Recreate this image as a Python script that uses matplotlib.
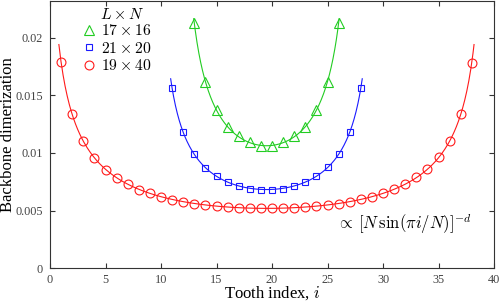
import numpy as np
import matplotlib
matplotlib.use("Agg")
import matplotlib.pyplot as plt
from matplotlib.ticker import FuncFormatter

plt.rcParams["font.family"] = ["Liberation Serif", "DejaVu Serif"]
plt.rcParams["mathtext.fontset"] = "cm"

# ------------------- Data -------------------

# L x N = 17 x 16, teeth 13..26
i_green = np.arange(13, 27)
y_green = [0.02128, 0.01612, 0.01372, 0.01227, 0.01143, 0.01092, 0.01060,
           0.01060, 0.01092, 0.01145, 0.01227, 0.01372, 0.01614, 0.02128]

# L x N = 21 x 20, teeth 11..28
i_blue = np.arange(11, 29)
y_blue = [0.01560, 0.01178, 0.00988, 0.00873, 0.00802, 0.00748, 0.00716, 0.00690,
          0.00681, 0.00681, 0.00690, 0.00716, 0.00748, 0.00802, 0.00874, 0.00988,
          0.01178, 0.01560]

# L x N = 19 x 40, teeth 1..38
i_red = np.arange(1, 39)
y_red = [0.01785, 0.01335, 0.01104, 0.00955, 0.00855, 0.00786, 0.00727, 0.00680,
         0.00650, 0.00618, 0.00596, 0.00575, 0.00560, 0.00549, 0.00540, 0.00532,
         0.00526, 0.00522, 0.00520, 0.00520, 0.00522, 0.00526, 0.00532, 0.00540,
         0.00549, 0.00560, 0.00577, 0.00598, 0.00620, 0.00650, 0.00687, 0.00730,
         0.00789, 0.00860, 0.00962, 0.01106, 0.01335, 0.01782]

labels = [r"$17\times 16$", r"$21\times 20$", r"$19\times 40$"]
N_values = [16, 20, 40]
first_tooth = [13, 11, 1]


def fit_curve(i, y, N, i0, ext):
    # fit y = A [N sin(pi (i - i0 + 3/2) / N)]^-d  in log space
    x = np.log(N * np.sin(np.pi * (i - i0 + 1.5) / N))
    slope, logA = np.polyfit(x, np.log(y), 1)
    pts = np.linspace(i[0] - ext, i[-1] + ext, 400)
    curve = np.exp(logA) * (N * np.sin(np.pi * (pts - i0 + 1.5) / N)) ** slope
    return pts, curve


# ------------------- Plotting -------------------

fig = plt.figure(figsize=(4.99, 3.01), dpi=100)
ax = fig.add_axes([0.1002, 0.1087, 0.8898, 0.889])

series = [
    (i_green, y_green, "#22cc22", "^", 7.0, 0.05),
    (i_blue, y_blue, "#1a1aff", "s", 4.6, 0.13),
    (i_red, y_red, "#ff1a1a", "o", 6.4, 0.2),
]

handles = []
for (i, y, color, marker, ms, ext), N, i0, lab in zip(series, N_values, first_tooth, labels):
    pts, curve = fit_curve(i, np.array(y), N, i0, ext)
    ax.plot(pts, curve, color=color, lw=0.8)
    h, = ax.plot(i, y, marker, mfc="none", mec=color, mew=0.8, ms=ms, label=lab)
    handles.append(h)

ax.set_xlim(0, 40)
ax.set_ylim(0, 0.0232)
ax.set_xticks(np.arange(0, 41, 5))
ax.set_yticks([0, 0.005, 0.01, 0.015, 0.02])
ax.yaxis.set_major_formatter(FuncFormatter(lambda v, _: f"{v:g}"))
ax.tick_params(direction="in", top=True, right=True, length=3.5, width=0.8,
               labelsize=8.8, colors="#333333", labelcolor="#444444", pad=5)
ax.tick_params(axis="x", pad=4)
for s in ax.spines.values():
    s.set_color("#333333")
    s.set_linewidth(0.8)

ax.set_xlabel(r"Tooth index, $i$", fontsize=12, labelpad=-1)
ax.set_ylabel("Backbone dimerization", fontsize=12)
ax.yaxis.set_label_coords(-0.077, 0.5)

leg = ax.legend(handles=handles, loc="upper left", bbox_to_anchor=(0.07, 0.916),
                frameon=False, fontsize=11.3, handlelength=1.0, handletextpad=0.25,
                labelspacing=0.1, borderaxespad=0, borderpad=0)
ax.text(0.1615, 0.948, r"$L\times N$", transform=ax.transAxes,
        ha="center", va="center", fontsize=11.3)

ax.text(0.95, 0.1655, r"$\propto\,[N\,\sin(\pi i/N)]^{-d}$", transform=ax.transAxes,
        ha="right", va="center", fontsize=12)

fig.savefig("out.png", dpi=100)
